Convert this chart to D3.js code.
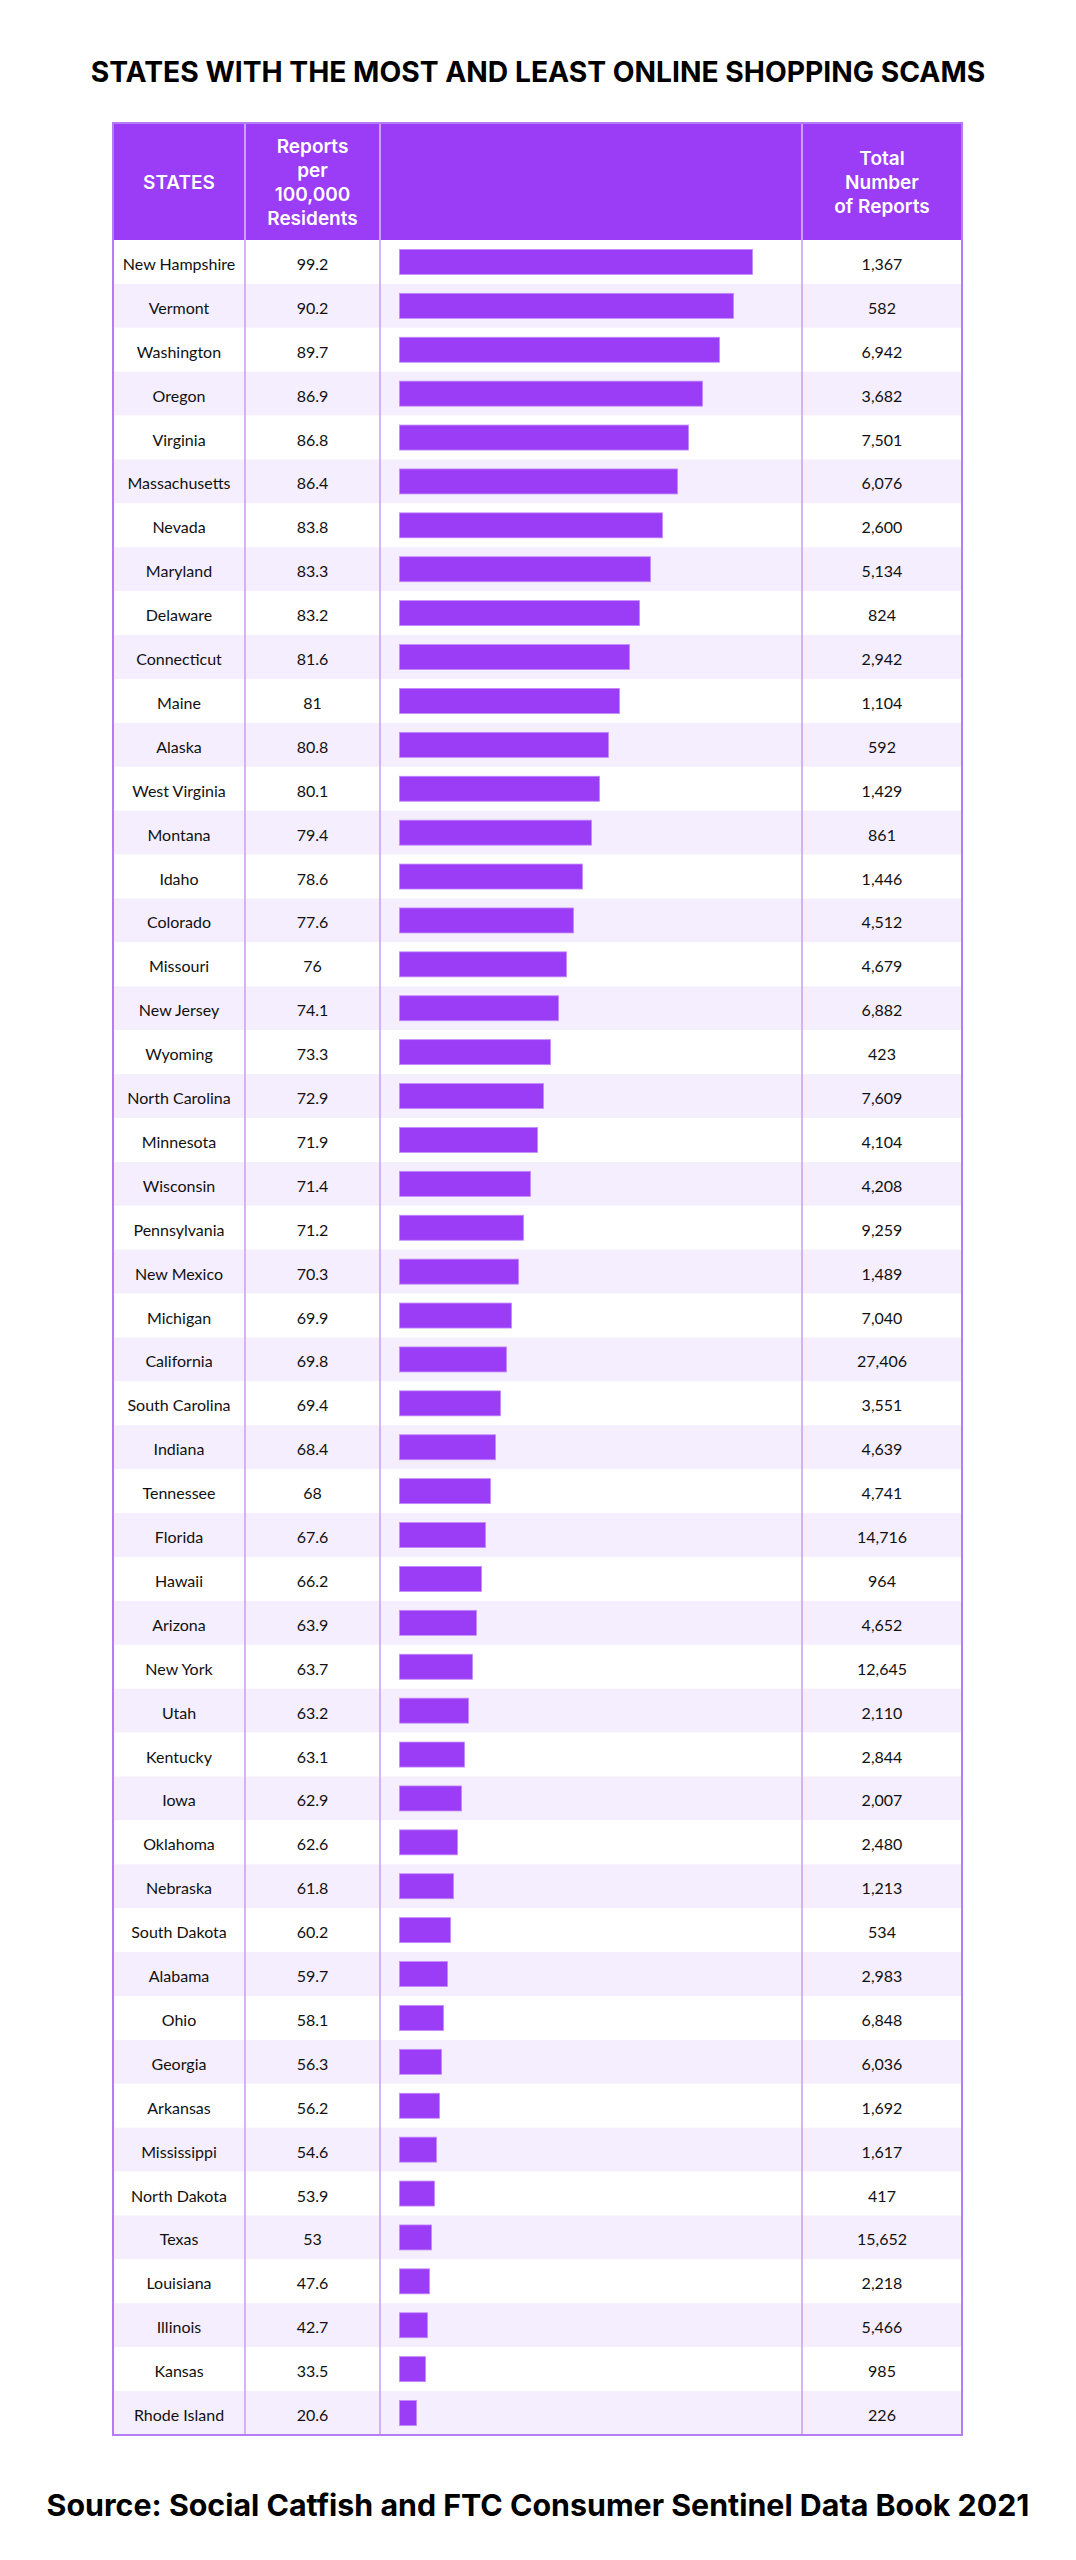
<!DOCTYPE html>
<html>
<head>
<meta charset="utf-8">
<script src="https://cdn.jsdelivr.net/npm/d3@7"></script>
<style>
  html, body { margin: 0; padding: 0; background: #fff; }
  svg { display: block; }
</style>
</head>
<body>
<div id="chart"></div>
<script>
// table data, top to bottom as in the graphic
var states = ["New Hampshire", "Vermont", "Washington", "Oregon", "Virginia", "Massachusetts", "Nevada",
  "Maryland", "Delaware", "Connecticut", "Maine", "Alaska", "West Virginia", "Montana", "Idaho", "Colorado",
  "Missouri", "New Jersey", "Wyoming", "North Carolina", "Minnesota", "Wisconsin", "Pennsylvania",
  "New Mexico", "Michigan", "California", "South Carolina", "Indiana", "Tennessee", "Florida", "Hawaii",
  "Arizona", "New York", "Utah", "Kentucky", "Iowa", "Oklahoma", "Nebraska", "South Dakota", "Alabama",
  "Ohio", "Georgia", "Arkansas", "Mississippi", "North Dakota", "Texas", "Louisiana", "Illinois", "Kansas",
  "Rhode Island"];

var reportsPer100k = [99.2, 90.2, 89.7, 86.9, 86.8, 86.4, 83.8, 83.3, 83.2, 81.6, 81, 80.8, 80.1, 79.4,
  78.6, 77.6, 76, 74.1, 73.3, 72.9, 71.9, 71.4, 71.2, 70.3, 69.9, 69.8, 69.4, 68.4, 68, 67.6, 66.2, 63.9,
  63.7, 63.2, 63.1, 62.9, 62.6, 61.8, 60.2, 59.7, 58.1, 56.3, 56.2, 54.6, 53.9, 53, 47.6, 42.7, 33.5, 20.6];

var totalReports = [1367, 582, 6942, 3682, 7501, 6076, 2600, 5134, 824, 2942, 1104, 592, 1429, 861, 1446,
  4512, 4679, 6882, 423, 7609, 4104, 4208, 9259, 1489, 7040, 27406, 3551, 4639, 4741, 14716, 964, 4652,
  12645, 2110, 2844, 2007, 2480, 1213, 534, 2983, 6848, 6036, 1692, 1617, 417, 15652, 2218, 5466, 985, 226];

// bar lengths as drawn in the graphic (not proportional to the values)
var barLength = [353, 334, 320, 303, 289, 278, 263, 251, 240, 230, 220, 209, 200, 192, 183, 174, 167, 159,
  151, 144, 138, 131, 124, 119, 112, 107, 101, 96, 91, 86, 82, 77, 73, 69, 65, 62, 58, 54, 51, 48, 44, 42,
  40, 37, 35, 32, 30, 28, 26, 17];

var headerStates = ["STATES"];
var headerRate = ["Reports", "per", "100,000", "Residents"];
var headerTotal = ["Total", "Number", "of Reports"];

var titleText = "STATES WITH THE MOST AND LEAST ONLINE SHOPPING SCAMS";
var sourceText = "Source: Social Catfish and FTC Consumer Sentinel Data Book 2021";

var W = 1076, H = 2560;
var purple = "#9b3cf6", stripe = "#f5eefe", lineCol = "#c89df5";

var tableLeft = 113, tableRight = 962,
    col1 = 245, col2 = 380, col3 = 802,
    headTop = 123, headBottom = 240, tableBottom = 2435;

var svg = d3.select("#chart").append("svg")
    .attr("width", W)
    .attr("height", H);

var fitText = function(sel, target) {
    var len = sel.node().getComputedTextLength();
    var fs = parseFloat(sel.style("font-size"));
    sel.style("font-size", (fs * target / len) + "px");
};

// title
var title = svg.append("text")
    .attr("x", W / 2)
    .attr("y", 82)
    .attr("text-anchor", "middle")
    .style("font-family", "Inter, 'Open Sans', sans-serif")
    .style("font-weight", 700)
    .style("font-size", "28px")
    .style("fill", "#000")
    .text(titleText);
fitText(title, 895);

// rows
var y = d3.scaleBand()
    .domain(states)
    .range([headBottom, tableBottom]);

var x = d3.scaleLinear()
    .domain([0, 360])
    .range([399.5, 759.5]);

var rows = svg.append("g").selectAll("g")
    .data(states)
    .join("g")
    .attr("transform", function(d) { return "translate(0," + y(d) + ")"; });

rows.append("rect")
    .attr("x", tableLeft)
    .attr("width", tableRight - tableLeft)
    .attr("height", y.bandwidth())
    .attr("fill", function(d, i) { return i % 2 ? stripe : "#fff"; });

var barH = 25;
rows.append("rect")
    .attr("x", x(0))
    .attr("y", (y.bandwidth() - barH) / 2)
    .attr("width", function(d, i) { return x(barLength[i]) - x(0); })
    .attr("height", barH)
    .attr("fill", purple)
    .attr("stroke", "#c48bfb")
    .attr("stroke-width", 0.8);

var cellText = function(cx, fn) {
    rows.append("text")
        .attr("x", cx)
        .attr("y", y.bandwidth() / 2 + 8)
        .attr("text-anchor", "middle")
        .style("font-family", "Lato, 'Open Sans', sans-serif")
        .style("font-size", "16px")
        .style("fill", "#111")
        .text(fn);
};
cellText((tableLeft + col1) / 2, function(d) { return d; });
cellText((col1 + col2) / 2, function(d, i) { return String(reportsPer100k[i]); });
cellText((col3 + tableRight) / 2, function(d, i) { return d3.format(",")(totalReports[i]); });

// column lines in the body
svg.append("g").selectAll("line")
    .data([col1, col2, col3])
    .join("line")
    .attr("x1", function(d) { return d; })
    .attr("x2", function(d) { return d; })
    .attr("y1", headBottom)
    .attr("y2", tableBottom)
    .attr("stroke", lineCol)
    .attr("stroke-width", 1.5);

// header
svg.append("rect")
    .attr("x", tableLeft)
    .attr("y", headTop)
    .attr("width", tableRight - tableLeft)
    .attr("height", headBottom - headTop)
    .attr("fill", purple);

svg.append("g").selectAll("line")
    .data([col1, col2, col3])
    .join("line")
    .attr("x1", function(d) { return d; })
    .attr("x2", function(d) { return d; })
    .attr("y1", headTop)
    .attr("y2", headBottom)
    .attr("stroke", "#dcc2fb")
    .attr("stroke-width", 1.5);

var headerBlock = function(lines, cx) {
    var lh = 24, cy = (headTop + headBottom) / 2;
    svg.append("g").selectAll("text")
        .data(lines)
        .join("text")
        .attr("x", cx)
        .attr("y", function(d, i) { return cy + (i - (lines.length - 1) / 2) * lh + 7; })
        .attr("text-anchor", "middle")
        .style("font-family", "Inter, 'Open Sans', sans-serif")
        .style("font-weight", 600)
        .style("font-size", "19px")
        .style("fill", "#fff")
        .text(function(d) { return d; });
};
headerBlock(headerStates, (tableLeft + col1) / 2);
headerBlock(headerRate, (col1 + col2) / 2);
headerBlock(headerTotal, (col3 + tableRight) / 2);

// outer border
svg.append("rect")
    .attr("x", tableLeft)
    .attr("y", headTop)
    .attr("width", tableRight - tableLeft)
    .attr("height", tableBottom - headTop)
    .attr("fill", "none")
    .attr("stroke", "#b57cf3")
    .attr("stroke-width", 2);

// source
var source = svg.append("text")
    .attr("x", W / 2)
    .attr("y", 2516)
    .attr("text-anchor", "middle")
    .style("font-family", "Inter, 'Open Sans', sans-serif")
    .style("font-weight", 700)
    .style("font-size", "27px")
    .style("fill", "#000")
    .text(sourceText);
fitText(source, 983);
</script>
</body>
</html>
